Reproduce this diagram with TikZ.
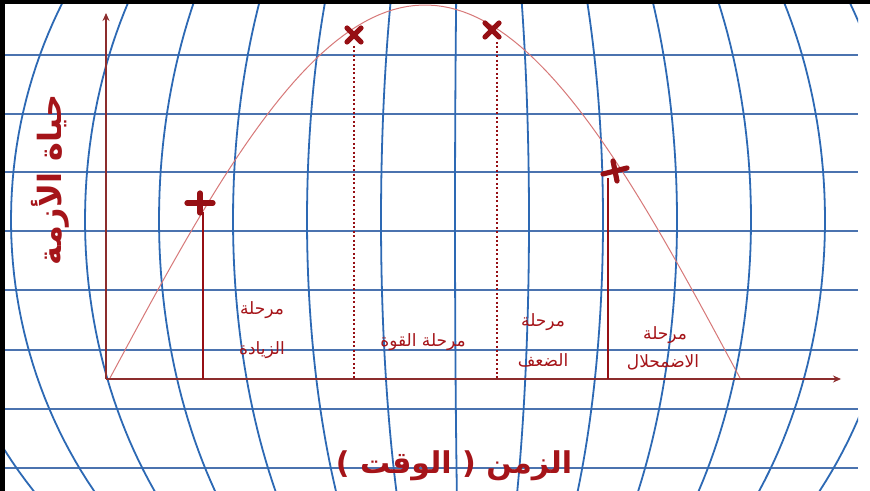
\documentclass[tikz,border=0pt]{standalone}
\usepackage{fontspec}
\newfontfamily\arabicfont[Script=Arabic]{DejaVu Sans}
\TeXXeTstate=1
\usetikzlibrary{arrows.meta}
\definecolor{gridblue}{RGB}{75,115,175}
\definecolor{merblue}{RGB}{45,105,180}
\definecolor{axisred}{RGB}{140,45,45}
\definecolor{curvered}{RGB}{215,120,120}
\definecolor{markred}{RGB}{150,15,20}
\definecolor{textred}{RGB}{165,20,25}
\begin{document}
\begin{tikzpicture}[x=0.5pt,y=-0.5pt,
  hline/.style={draw=gridblue, line width=0.7pt},
  meridian/.style={draw=merblue, line width=0.9pt},
  axisline/.style={draw=axisred, line width=0.6pt, -{Stealth[length=4pt,width=3.5pt]}},
  curveline/.style={draw=curvered, line width=0.5pt},
  markline/.style={draw=markred, line width=2.6pt, line cap=round},
  dropline/.style={draw=markred, line width=0.6pt},
  dotline/.style={draw=markred, line width=0.8pt, dash pattern=on 1pt off 1.2pt},
  lbl/.style={text=textred, font=\arabicfont\fontsize{8.5}{10}\selectfont, inner sep=0pt},
  biglbl/.style={text=textred, font=\arabicfont\bfseries\fontsize{15}{18}\selectfont, inner sep=0pt}
]
\useasboundingbox (0,0) rectangle (870,491);
\fill[white] (0,0) rectangle (870,491);
% background grid
\begin{scope}
\clip (5,3) rectangle (858,491);
\foreach \yy in {55,114,172,231,290,350,409,468} {
  \draw[hline] (5,\yy) -- (858,\yy);
}
\foreach \i in {-1,...,12} {
  \pgfmathsetmacro\aa{11+74*\i-465}
  \draw[meridian] plot[domain=-32:38, samples=50, variable=\t] ({465+\aa*cos(\t)}, {220+470*sin(\t)});
}
\end{scope}
% border
\draw[line width=2.5pt] (2.5,491) -- (2.5,1.5) -- (870,1.5);
% axes
\coordinate (O) at (106,379);
\coordinate (ytop) at (106,13);
\coordinate (xend) at (841,379);
\draw[axisline] (O) -- (ytop);
\draw[axisline] (O) -- (xend);
% curve
\draw[curveline] plot[domain=110:740, samples=90, variable=\u] (\u, {378-373*sin((\u-110)*0.2857143)});
% markers
\coordinate (m1) at (200,203);
\coordinate (m1a) at (203,212);
\coordinate (m1b) at (203,379);
\coordinate (m2) at (354,35);
\coordinate (m2a) at (354,46);
\coordinate (m2b) at (354,379);
\coordinate (m3) at (492,30);
\coordinate (m3a) at (497,42);
\coordinate (m3b) at (497,379);
\coordinate (m4) at (615,171);
\coordinate (m4a) at (608,178);
\coordinate (m4b) at (608,379);
\draw[dropline] (m1a) -- (m1b);
\draw[dotline] (m2a) -- (m2b);
\draw[dotline] (m3a) -- (m3b);
\draw[dropline] (m4a) -- (m4b);
\draw[markline] (m1) ++(-13,0) -- ++(26,0);
\draw[markline] (m1) ++(0,-10) -- ++(0,20);
\draw[markline] (m4) ++(-12,3) -- ++(24,-6);
\draw[markline] (m4) ++(-2,-10) -- ++(4,20);
\draw[markline] (m2) ++(-7,-7) -- ++(14,14);
\draw[markline] (m2) ++(-7,7) -- ++(14,-14);
\draw[markline] (m3) ++(-7,-7) -- ++(14,14);
\draw[markline] (m3) ++(-7,7) -- ++(14,-14);
% labels
\node[lbl] (z1a) at (262,310) {\beginR مرحلة\endR};
\node[lbl] (z1b) at (262,350) {\beginR الزيادة\endR};
\node[lbl] (z2) at (423,342) {\beginR مرحلة القوة\endR};
\node[lbl] (z3a) at (543,322) {\beginR مرحلة\endR};
\node[lbl] (z3b) at (543,360) {\beginR الضعف\endR};
\node[lbl] (z4a) at (665,335) {\beginR مرحلة\endR};
\node[lbl] (z4b) at (663,362) {\beginR الاضمحلال\endR};
\node[biglbl] (xl) at (454,466) {\beginR الزمن ( الوقت )\endR};
\node[biglbl, font=\arabicfont\bfseries\fontsize{16}{19}\selectfont, rotate=90] (yl) at (50,180) {\beginR حياة الأزمة\endR};
\end{tikzpicture}
\end{document}
